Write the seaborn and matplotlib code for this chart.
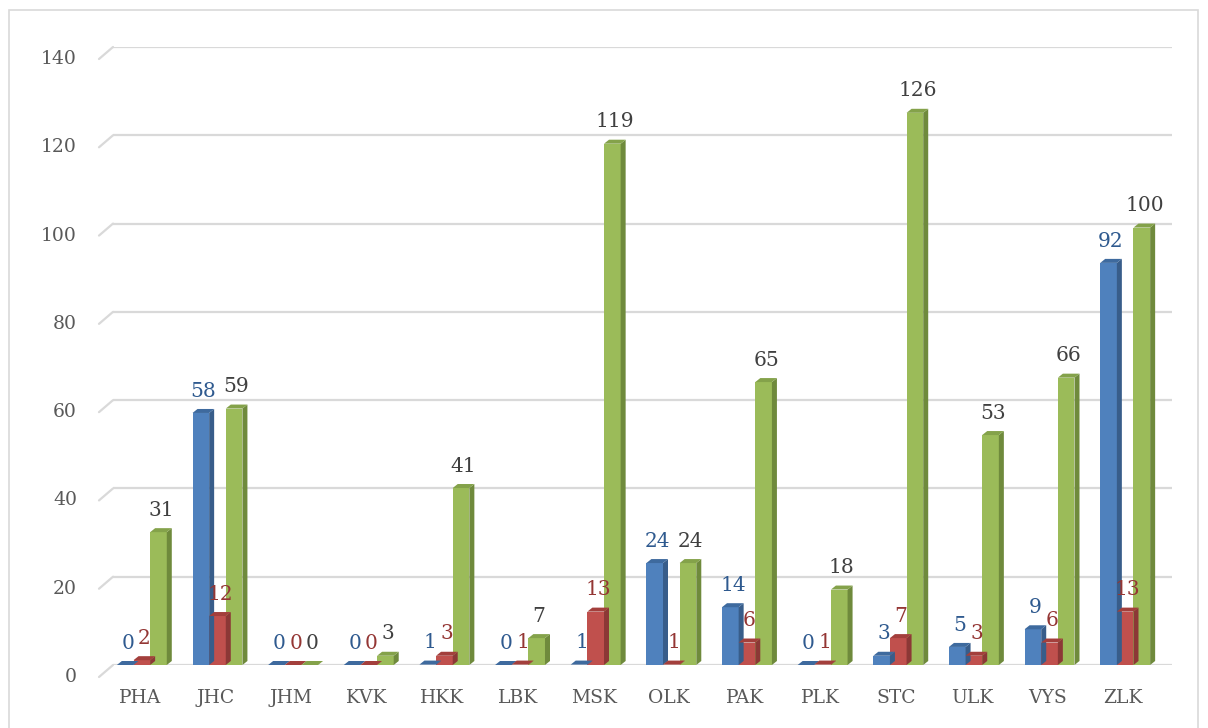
import numpy as np
import pandas as pd
import matplotlib.pyplot as plt
import seaborn as sns
from matplotlib.patches import Polygon, Rectangle
from matplotlib.transforms import offset_copy

regions = ['PHA', 'JHC', 'JHM', 'KVK', 'HKK', 'LBK', 'MSK', 'OLK', 'PAK', 'PLK', 'STC', 'ULK', 'VYS', 'ZLK']
blue_vals = [0, 58, 0, 0, 1, 0, 1, 24, 14, 0, 3, 5, 9, 92]
red_vals = [2, 12, 0, 0, 3, 1, 13, 1, 6, 1, 7, 3, 6, 13]
green_vals = [31, 59, 0, 3, 41, 7, 119, 24, 65, 18, 126, 53, 66, 100]
series = ['s1', 's2', 's3']
y_ticks = [0, 20, 40, 60, 80, 100, 120, 140]

front = {'s1': '#4F81BD', 's2': '#C0504D', 's3': '#9BBB59'}
side = {'s1': '#385D8A', 's2': '#8C3836', 's3': '#6F8A3C'}
top = {'s1': '#3E6A9E', 's2': '#A33F3C', 's3': '#84A24A'}
label_col = {'s1': '#2F5A8F', 's2': '#943634', 's3': '#404040'}

df = pd.DataFrame({
    'region': regions * 3,
    'series': np.repeat(series, len(regions)),
    'value': blue_vals + red_vals + green_vals,
})

sns.set_style('white')
plt.rcParams['font.family'] = ['DejaVu Serif']

fig = plt.figure(figsize=(12.08, 7.28), dpi=100)
ax = fig.add_axes([113 / 1208, 1 - 665 / 728, (1172 - 113) / 1208, (665 - 47) / 728])

sns.barplot(data=df, x='region', y='value', hue='series', order=regions, hue_order=series,
            palette=front, width=0.66, gap=0, saturation=1, legend=False, ax=ax, linewidth=0)

ax.set_xlim(-0.5, len(regions) - 0.5)
ax.set_ylim(0, 140)

# pixel -> data units
px_x = len(regions) / (1172 - 113)
px_y = 140 / (665 - 47)
depth_x, depth_y = 5 * px_x, 4 * px_y
shift = -9 * px_x

# back wall gridlines + slanted stubs
for t in y_ticks:
    ax.axhline(t, color='#D9D9D9', lw=1.6, zorder=0)
    ax.plot([-0.5 - 14 * px_x, -0.5], [t - 12 * px_y, t], color='#D9D9D9', lw=1.6,
            clip_on=False, zorder=0)
    ax.text(-0.5, t, str(t), ha='right', va='center', fontsize=13.5, color='#595959',
            transform=offset_copy(ax.transData, fig=fig, x=-36, y=-12, units='dots'))

ax.set_xticks([])
ax.set_yticks([])
ax.set_xlabel('')
ax.set_ylabel('')
for s in ax.spines.values():
    s.set_visible(False)

for i, r in enumerate(regions):
    ax.text(i, 0, r, ha='center', va='center', fontsize=13.5, color='#595959',
            transform=offset_copy(ax.transData, fig=fig, x=-11, y=-33, units='dots'))

bars = ax.patches[:len(regions) * 3]
for k, p in enumerate(bars):
    s = series[k // len(regions)]
    val = p.get_height()
    p.set_x(p.get_x() + shift)
    h = max(val - depth_y, 0)
    p.set_height(h)
    x, w = p.get_x(), p.get_width()
    ax.add_patch(Polygon([(x + w, 0), (x + w + depth_x, depth_y), (x + w + depth_x, h + depth_y), (x + w, h)],
                         closed=True, facecolor=side[s], edgecolor='none', zorder=p.get_zorder()))
    ax.add_patch(Polygon([(x, h), (x + w, h), (x + w + depth_x, h + depth_y), (x + depth_x, h + depth_y)],
                         closed=True, facecolor=top[s], edgecolor='none', zorder=p.get_zorder()))
    ax.annotate(f'{val:.0f}', (x + w / 2 + depth_x / 2, h + depth_y), xytext=(0, 6),
                textcoords='offset points', ha='center', va='bottom', fontsize=14.5,
                color=label_col[s], annotation_clip=False)

fig.patches.append(Rectangle((9 / 1208, -0.05), (1198 - 9) / 1208, 1.05 - 10 / 728,
                             transform=fig.transFigure, fill=False, edgecolor='#D9D9D9', lw=1.2))

fig.savefig('out.png', dpi=100)
